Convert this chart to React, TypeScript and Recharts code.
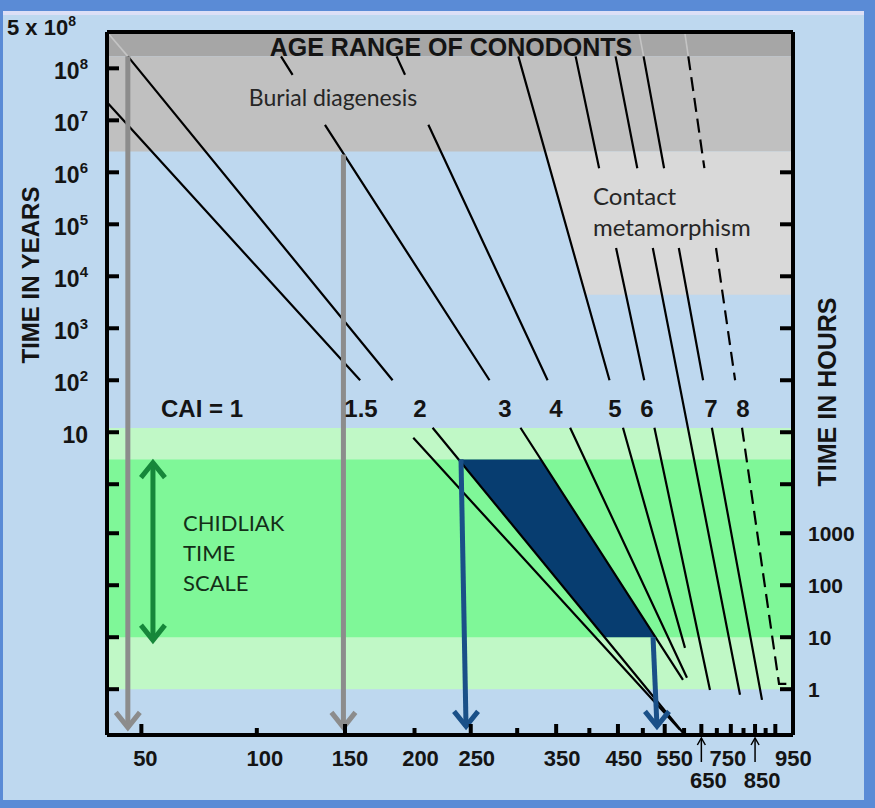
import React from 'react';
import { ComposedChart, Line, Area, XAxis, YAxis, ReferenceLine } from 'recharts';

const HOURS_PER_YEAR = 8766;

// x axis: temperature in °C, on a 1/T (Arrhenius) scale
const tempTicks = [50, 100, 150, 200, 250, 300, 350, 400, 450, 500, 550, 600, 650, 700, 750, 800, 850, 900, 950];
const tempLabels = [50, 100, 150, 200, 250, 350, 450, 550, 750, 950];
const tempLabelsLower = [650, 850];
const tempRange = [37.6, 1053];

// y axis: time in years, log scale
const yearRange = [1.5e-5, 5e8];
const leftYearTicks = [5e8, 1e8, 1e7, 1e6, 1e5, 1e4, 1e3, 100, 10, 1];
const rightYearTicks = [1e6, 1e5, 1e4, 1e3, 100, 10, 1];
const hourTicks = [1000, 100, 10, 1];

// CAI isograds as [°C, years]; null = break where a label sits on the line
type Pt = [number, number] | null;
const cai15: Pt[] = [[38, 2.1e7], [160, 100], null, [199, 7.8], [589, 1.9e-5]];
const cai2: Pt[] = [[45, 1.7e8], [183, 100], null, [215, 12.2], [597, 1.66e-5]];
const cai3: Pt[] = [[112.5, 1.7e8], [118.8, 7.5e7], null, [137.5, 8.2e6], [269.1, 100], null, [303.9, 12.2], [597, 1.73e-4]];
const cai4: Pt[] = [[186, 1.7e8], [192.5, 7.5e7], null, [211.4, 8.2e6], [338.3, 100], null, [370.1, 12.2], [608, 1.9e-4]];
const cai5: Pt[] = [[301.4, 1.7e8], [434.5, 100], null, [459.6, 12.2], [602.5, 7.1e-4]];
const cai6: Pt[] = [[378.4, 1.7e8], [416.3, 1.2e6], null, [446.5, 3.5e4], [503, 100], null, [525.7, 12.2], [677.2, 1.1e-4]];
const cai65: Pt[] = [[445.6, 1.7e8], [488.3, 1.2e6], null, [522, 3.5e4], [785.7, 8.9e-5]];
const cai7: Pt[] = [[501.6, 1.7e8], [548.5, 1.2e6], null, [585.8, 3.5e4], [655.4, 100], null, [683.4, 12.2], [882.4, 7.1e-5]];
const cai8: Pt[] = [[611.7, 1.7e8], [659.4, 1.2e6], null, [697.2, 3.5e4], [766.4, 100], null, [793.9, 12.2], [970.2, 1.45e-4], [1022, 1.45e-4]];
// faint continuations inside the darkest band
const fadedTops: Pt[][] = [
  [[37.6, 5e8], [45, 1.7e8]],
  [[491.8, 5e8], [501.6, 1.7e8]],
  [[601.7, 5e8], [611.7, 1.7e8]],
];

// shaded regions: [low, high] years, or [°C, low, high]
const conodontTop = [1.7e8, 5e8];
const conodontAge = [2.5e6, 1.7e8];
const contactMeta: [number, number, number][] = [[335.9, 2.5e6, 2.5e6], [394.3, 4.4e3, 2.5e6], [1053, 4.4e3, 2.5e6]];
const chidliakOuter = [1 / HOURS_PER_YEAR, 12];
const chidliakInner = [10 / HOURS_PER_YEAR, 3];
const chidliakWindow: [number, number, number][] = [
  [238, 3, 3],
  [329, 0.0355, 3],
  [425.6, 10 / HOURS_PER_YEAR, 0.0379],
  [527.9, 10 / HOURS_PER_YEAR, 10 / HOURS_PER_YEAR],
];

// arrows: [°C, years] start -> tip
const grayArrowLow: Pt[] = [[45, 1.7e8], [45, 2.1e-5]];
const grayArrowHigh: Pt[] = [[149, 2.2e6], [149, 2.1e-5]];
const blueArrowLow: Pt[] = [[240.6, 3], [245.4, 2.2e-5]];
const blueArrowHigh: Pt[] = [[522.5, 10 / HOURS_PER_YEAR], [531.6, 2.2e-5]];
const chidliakArrow: Pt[] = [[54.4, 2.6], [54.4, 1.0e-3]];

const toX = (c: number) => 1000 / (c + 273.15);
const toY = (yr: number) => Math.log10(yr);

const path = (pts: Pt[]) => {
  let lastX = 0;
  return pts.map((p) => {
    if (!p) return { x: lastX, y: null };
    lastX = toX(p[0]);
    return { x: lastX, y: toY(p[1]) };
  });
};
const band = (r: number[]) => [
  { x: toX(tempRange[0]), y: [toY(r[0]), toY(r[1])] },
  { x: toX(tempRange[1]), y: [toY(r[0]), toY(r[1])] },
];
const region = (pts: [number, number, number][]) =>
  pts.map(([c, lo, hi]) => ({ x: toX(c), y: [toY(lo), toY(hi)] }));

const BOLD = '"Liberation Sans", Arial, sans-serif';
const BODY = 'Lato, "Noto Sans", sans-serif';
const INK = '#141414';

const labelShift: Record<number, number> = { 50: 4, 100: 8, 150: 5, 550: 10, 750: -3, 950: 18 };

function TempTick(props: any) {
  const { x, y, payload } = props;
  const c = Math.round(1000 / payload.value - 273.15);
  const major = (c - 50) % 100 === 0;
  const dx = labelShift[c] ?? 6;
  return (
    <g>
      <line x1={x} x2={x} y1={y} y2={y - (major ? 11 : 7)} stroke="#000" strokeWidth={4} />
      {tempLabels.includes(c) && (
        <text x={x + dx} y={y + 31} textAnchor="middle" fontFamily={BOLD} fontWeight="bold" fontSize={22} fill={INK}>
          {c}
        </text>
      )}
      {tempLabelsLower.includes(c) && (
        <g>
          <line x1={x} x2={x} y1={y + 3} y2={y + 27} stroke="#000" strokeWidth={1.5} />
          <path d={`M${x - 4},${y + 10} L${x},${y + 3} L${x + 4},${y + 10}`} stroke="#000" strokeWidth={1.5} fill="none" />
          <text x={x + 7} y={y + 53} textAnchor="middle" fontFamily={BOLD} fontWeight="bold" fontSize={22} fill={INK}>
            {c}
          </text>
        </g>
      )}
    </g>
  );
}

function YearTick(props: any) {
  const { x, y, payload } = props;
  const v = payload.value;
  if (v > 8.6) {
    return (
      <text x={7} y={y + 3} fontFamily={BOLD} fontWeight="bold" fontSize={22} fill={INK}>
        5 x 10<tspan dy={-9} fontSize={14}>8</tspan>
      </text>
    );
  }
  const n = Math.round(v);
  const decade = Math.abs(v - n) < 1e-6 && n >= 1;
  return (
    <g>
      <line x1={x} x2={x + 12} y1={y} y2={y} stroke="#000" strokeWidth={4} />
      {decade && (
        <text x={x - 19} y={y + 11} textAnchor="end" fontFamily={BOLD} fontWeight="bold" fontSize={23} fill={INK}>
          10
          {n > 1 && (
            <tspan dy={-10} fontSize={15}>
              {n}
            </tspan>
          )}
        </text>
      )}
    </g>
  );
}

function HourTick(props: any) {
  const { x, y, payload } = props;
  const hours = Math.pow(10, payload.value) * HOURS_PER_YEAR;
  const h = Math.round(hours);
  const labelled = Math.abs(hours - h) < 0.01 && hourTicks.includes(h);
  return (
    <g>
      <line x1={x - 13} x2={x} y1={y} y2={y} stroke="#000" strokeWidth={4} />
      {labelled && (
        <text x={x + 15} y={y + 8} fontFamily={BOLD} fontWeight="bold" fontSize={21} fill={INK}>
          {h}
        </text>
      )}
    </g>
  );
}

const chevron = (color: string, up: boolean) => (props: any) => {
  const { cx, cy, index } = props;
  const isTip = up ? true : index === 1;
  if (!isTip || cx == null || cy == null) return <g key={`n${index}`} />;
  const s = up && index === 0 ? 1 : -1;
  return (
    <path
      key={`h${index}`}
      d={`M${cx - 12},${cy + s * 15} L${cx},${cy} L${cx + 12},${cy + s * 15}`}
      stroke={color}
      strokeWidth={5}
      fill="none"
      strokeLinejoin="miter"
    />
  );
};

const Txt = ({ x, y, children, style }: any) => (
  <div
    style={{
      position: 'absolute',
      left: x,
      top: y,
      transform: 'translate(-50%, -50%)',
      whiteSpace: 'nowrap',
      lineHeight: 1,
      ...style,
    }}
  >
    {children}
  </div>
);

export default function App() {
  const xDomain = [toX(tempRange[1]), toX(tempRange[0])];
  const yDomain = [toY(yearRange[0]), toY(yearRange[1])];
  const hourPos = hourTicks.map((h) => toY(h / HOURS_PER_YEAR));
  const caiStyle = { fontFamily: BOLD, fontWeight: 'bold', fontSize: 24, color: INK };
  const bodyStyle = { fontFamily: BODY, fontSize: 23, color: '#262626' };

  const isograds = [cai15, cai2, cai3, cai4, cai5, cai6, cai65, cai7];

  return (
    <div style={{ position: 'relative', width: 875, height: 808, background: '#5a8bd6', overflow: 'hidden' }}>
      <style>{'body{margin:0}'}</style>
      <div
        style={{
          position: 'absolute',
          left: 3,
          top: 11,
          width: 861,
          height: 785,
          background: '#bed8ef',
          borderTop: '4px solid #dcdff6',
        }}
      />
      <div style={{ position: 'absolute', left: 0, top: 0 }}>
        <ComposedChart width={875} height={808} margin={{ top: 32, right: 81, bottom: 72, left: 106 }}>
          <XAxis
            type="number"
            dataKey="x"
            domain={xDomain}
            allowDataOverflow
            reversed
            ticks={tempTicks.map(toX)}
            interval={0}
            height={1}
            tickSize={0}
            tickMargin={0}
            tickLine={false}
            axisLine={{ stroke: '#000', strokeWidth: 4 }}
            tick={<TempTick />}
          />
          <YAxis
            yAxisId="l"
            type="number"
            domain={yDomain}
            allowDataOverflow
            ticks={[...leftYearTicks.map(toY), ...hourPos]}
            interval={0}
            width={1}
            tickSize={0}
            tickMargin={0}
            tickLine={false}
            axisLine={{ stroke: '#000', strokeWidth: 4 }}
            tick={<YearTick />}
          />
          <YAxis
            yAxisId="r"
            orientation="right"
            type="number"
            domain={yDomain}
            allowDataOverflow
            ticks={[...rightYearTicks.map(toY), ...hourPos]}
            interval={0}
            width={1}
            tickSize={0}
            tickMargin={0}
            tickLine={false}
            axisLine={{ stroke: '#000', strokeWidth: 4 }}
            tick={<HourTick />}
          />

          <Area yAxisId="l" data={band(conodontTop)} dataKey="y" type="linear" stroke="none" fill="#a6a6a6" fillOpacity={1} isAnimationActive={false} />
          <Area yAxisId="l" data={band(conodontAge)} dataKey="y" type="linear" stroke="none" fill="#c0c0c0" fillOpacity={1} isAnimationActive={false} />
          <Area yAxisId="l" data={region(contactMeta)} dataKey="y" type="linear" stroke="none" fill="#d9d9d9" fillOpacity={1} isAnimationActive={false} />
          <Area yAxisId="l" data={band(chidliakOuter)} dataKey="y" type="linear" stroke="none" fill="#c0f8c6" fillOpacity={1} isAnimationActive={false} />
          <Area yAxisId="l" data={band(chidliakInner)} dataKey="y" type="linear" stroke="none" fill="#7ff798" fillOpacity={1} isAnimationActive={false} />
          <Area yAxisId="l" data={region(chidliakWindow)} dataKey="y" type="linear" stroke="none" fill="#073d70" fillOpacity={1} isAnimationActive={false} />

          {fadedTops.map((d, i) => (
            <Line key={`fade${i}`} yAxisId="l" data={path(d)} dataKey="y" type="linear" stroke="#c4c4c4" strokeWidth={1.6} dot={false} isAnimationActive={false} />
          ))}
          {isograds.map((d, i) => (
            <Line key={`cai${i}`} yAxisId="l" data={path(d)} dataKey="y" type="linear" stroke="#000" strokeWidth={2.2} dot={false} connectNulls={false} isAnimationActive={false} />
          ))}
          <Line yAxisId="l" data={path(cai8)} dataKey="y" type="linear" stroke="#000" strokeWidth={2.2} strokeDasharray="14 7" dot={false} connectNulls={false} isAnimationActive={false} />

          <Line yAxisId="l" data={path(grayArrowLow)} dataKey="y" type="linear" stroke="#8c8c8c" strokeWidth={5} dot={chevron('#8c8c8c', false)} isAnimationActive={false} />
          <Line yAxisId="l" data={path(grayArrowHigh)} dataKey="y" type="linear" stroke="#8c8c8c" strokeWidth={5} dot={chevron('#8c8c8c', false)} isAnimationActive={false} />
          <Line yAxisId="l" data={path(blueArrowLow)} dataKey="y" type="linear" stroke="#1a5088" strokeWidth={5} dot={chevron('#1a5088', false)} isAnimationActive={false} />
          <Line yAxisId="l" data={path(blueArrowHigh)} dataKey="y" type="linear" stroke="#1a5088" strokeWidth={5} dot={chevron('#1a5088', false)} isAnimationActive={false} />
          <Line yAxisId="l" data={path(chidliakArrow)} dataKey="y" type="linear" stroke="#16873a" strokeWidth={5} dot={chevron('#16873a', true)} isAnimationActive={false} />

          <ReferenceLine yAxisId="l" y={yDomain[1]} stroke="#000" strokeWidth={4} />
        </ComposedChart>
      </div>

      <Txt x={451} y={47} style={{ fontFamily: BOLD, fontWeight: 'bold', fontSize: 25, color: INK }}>
        AGE RANGE OF CONODONTS
      </Txt>
      <Txt x={333} y={97} style={bodyStyle}>Burial diagenesis</Txt>
      <div style={{ position: 'absolute', left: 593, top: 180, lineHeight: '31px', ...bodyStyle, fontSize: 24 }}>
        Contact
        <br />
        metamorphism
      </div>
      <div style={{ position: 'absolute', left: 183, top: 508, lineHeight: '30px', ...bodyStyle, fontSize: 22, color: '#142e18' }}>
        CHIDLIAK
        <br />
        TIME
        <br />
        SCALE
      </div>

      <Txt x={202} y={409} style={caiStyle}>CAI = 1</Txt>
      <Txt x={361} y={409} style={caiStyle}>1.5</Txt>
      <Txt x={420} y={409} style={caiStyle}>2</Txt>
      <Txt x={505} y={409} style={caiStyle}>3</Txt>
      <Txt x={556} y={409} style={caiStyle}>4</Txt>
      <Txt x={615} y={409} style={caiStyle}>5</Txt>
      <Txt x={647} y={409} style={caiStyle}>6</Txt>
      <Txt x={711} y={409} style={caiStyle}>7</Txt>
      <Txt x={743} y={409} style={caiStyle}>8</Txt>

      <Txt x={31} y={275} style={{ fontFamily: BOLD, fontWeight: 'bold', fontSize: 24, color: INK, transform: 'translate(-50%, -50%) rotate(-90deg)' }}>
        TIME IN YEARS
      </Txt>
      <Txt x={827} y={392} style={{ fontFamily: BOLD, fontWeight: 'bold', fontSize: 25, color: INK, transform: 'translate(-50%, -50%) rotate(-90deg)' }}>
        TIME IN HOURS
      </Txt>
    </div>
  );
}
